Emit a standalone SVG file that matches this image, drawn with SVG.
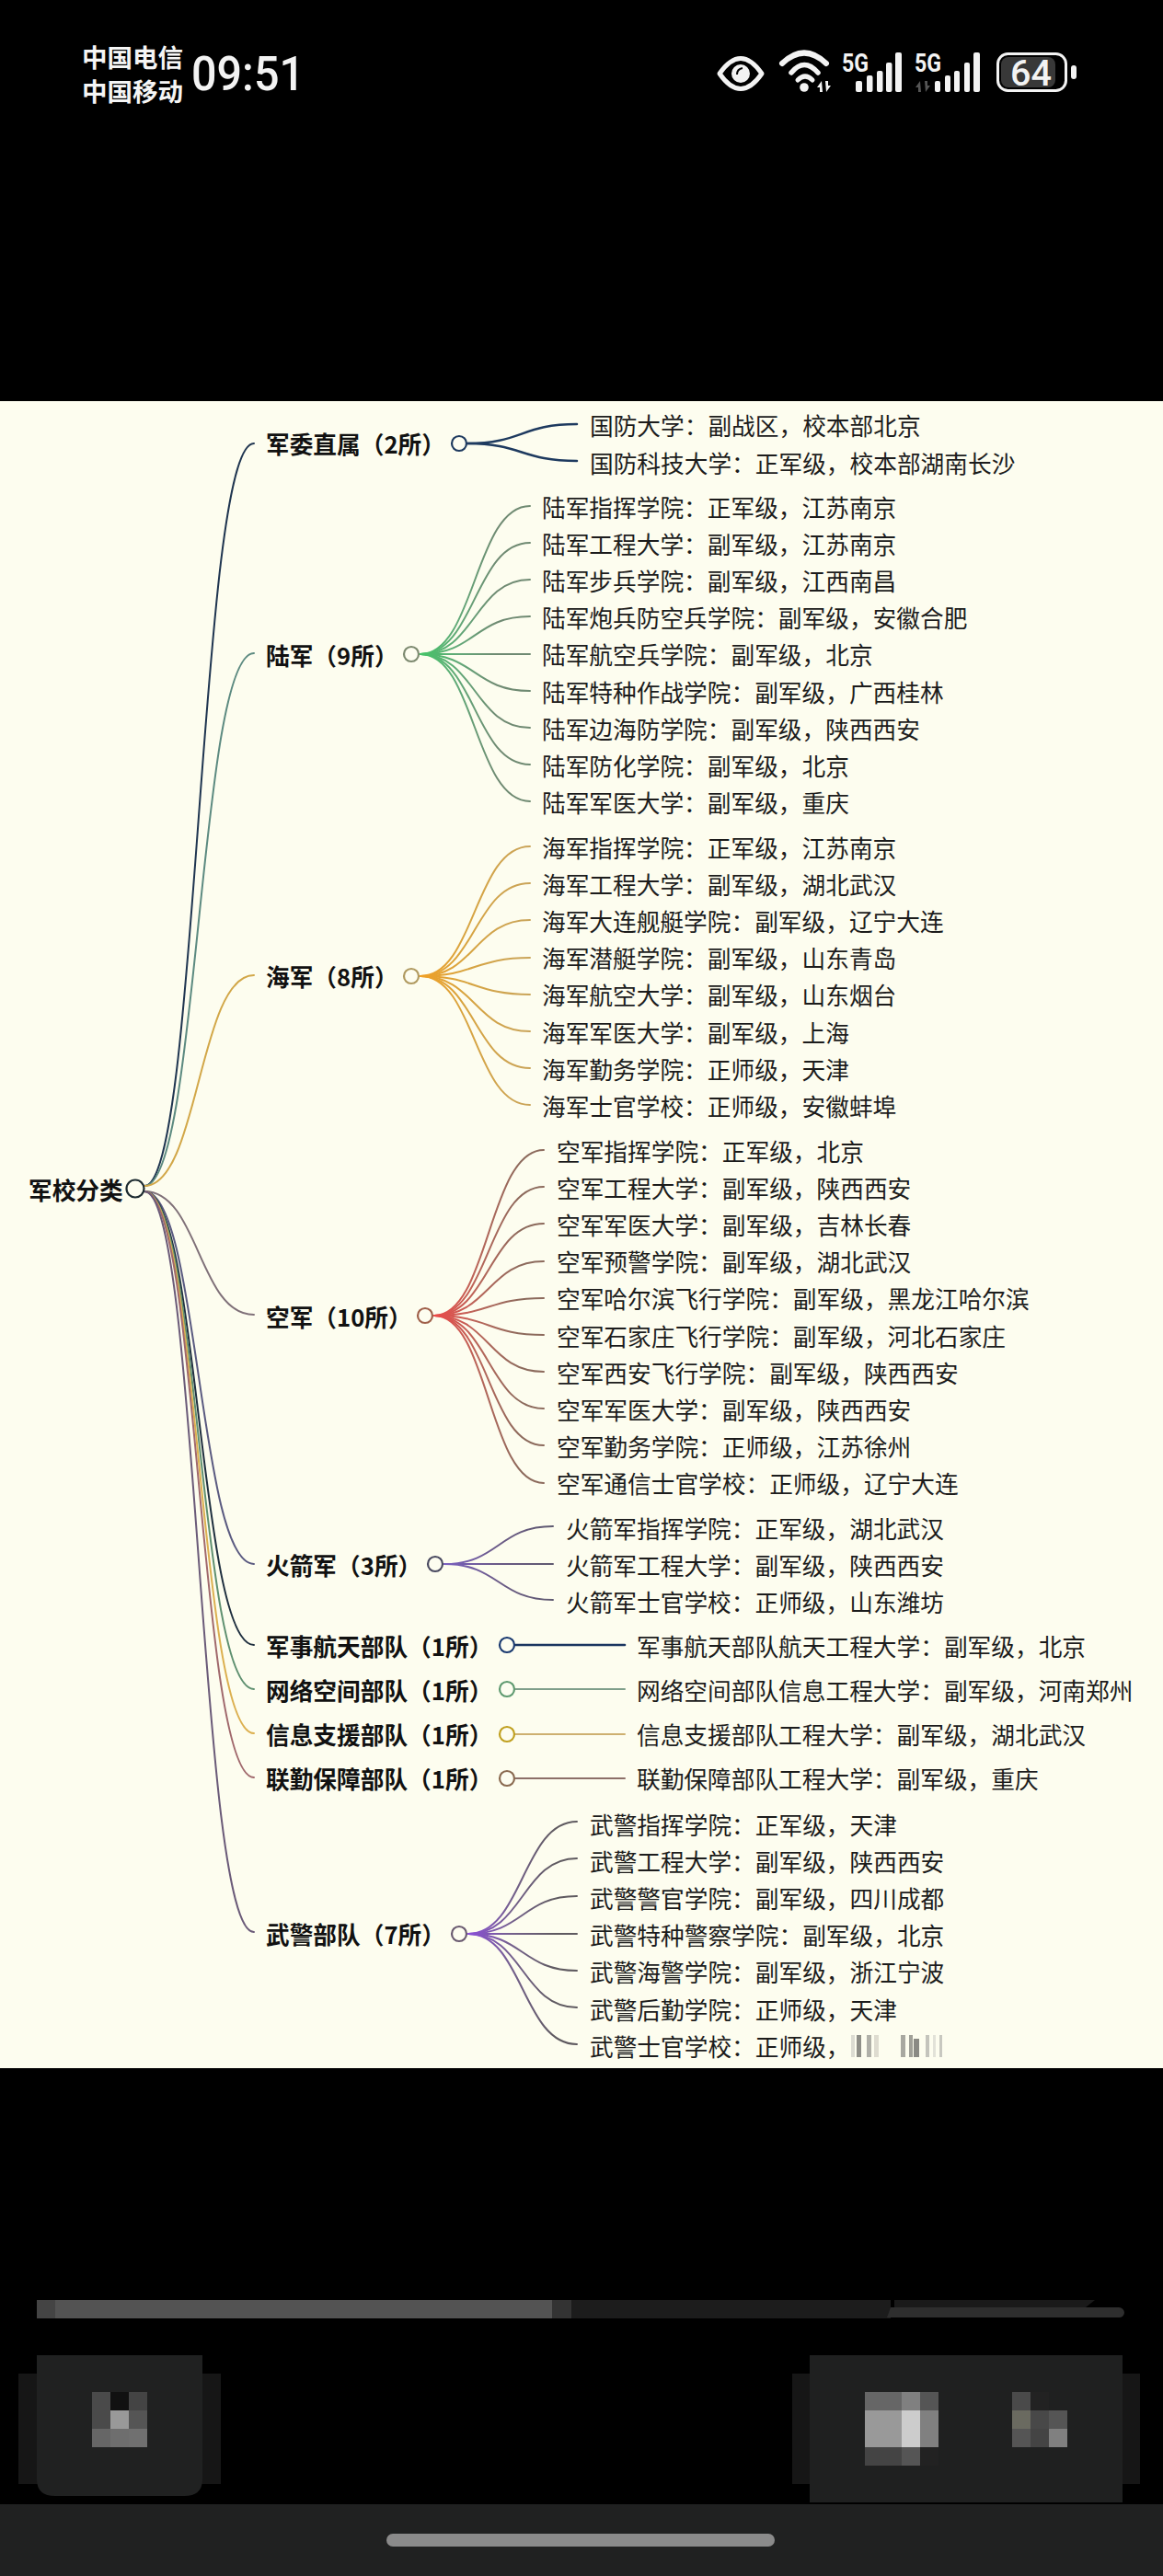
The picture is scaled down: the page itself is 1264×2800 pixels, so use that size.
<svg xmlns="http://www.w3.org/2000/svg" width="1264" height="2800" viewBox="0 0 1264 2800">
<style>
text{font-family:"Noto Sans CJK SC","Noto Sans",sans-serif}
.leaf{font-size:25.7px;fill:#1c1c1c}
.lab{font-size:25.7px;font-weight:700;fill:#111}
.st{font-size:27.5px;font-weight:700;fill:#f5f5f5}
.num{font-family:Roboto,"Liberation Sans",sans-serif;fill:#f3f3f3}
.hub{fill:#fdfdf0;stroke-width:2.2}
.conn path{fill:none;stroke-width:2;stroke-linecap:round}
.ico{fill:#f3f3f3}
.arc{fill:none;stroke:#f3f3f3;stroke-linecap:round}
</style>
<defs>
<linearGradient id="gLu" gradientUnits="userSpaceOnUse" x1="457" y1="0" x2="576" y2="0"><stop offset="0" stop-color="#45c468"/><stop offset=".35" stop-color="#62a878"/><stop offset=".7" stop-color="#6f8a72"/></linearGradient>
<linearGradient id="gHai" gradientUnits="userSpaceOnUse" x1="457" y1="0" x2="576" y2="0"><stop offset="0" stop-color="#f0a025"/><stop offset=".4" stop-color="#d8a440"/><stop offset="1" stop-color="#c9a45a"/></linearGradient>
<linearGradient id="gKong" gradientUnits="userSpaceOnUse" x1="472" y1="0" x2="591" y2="0"><stop offset="0" stop-color="#ec4a48"/><stop offset=".4" stop-color="#b8665a"/><stop offset=".8" stop-color="#8c6a5c"/></linearGradient>
<linearGradient id="gHuo" gradientUnits="userSpaceOnUse" x1="483" y1="0" x2="601" y2="0"><stop offset="0" stop-color="#7a60c0"/><stop offset=".5" stop-color="#6a5a86"/><stop offset="1" stop-color="#5f5a70"/></linearGradient>
<linearGradient id="gWu" gradientUnits="userSpaceOnUse" x1="509" y1="0" x2="627" y2="0"><stop offset="0" stop-color="#8a4fd8"/><stop offset=".4" stop-color="#74608c"/><stop offset=".8" stop-color="#5f5a60"/></linearGradient>
</defs>

<rect id="screen" x="0" y="0" width="1264" height="2800" fill="#000"/>
<rect id="panel" x="0" y="436" width="1264" height="1812" fill="#fdfdef"/>

<g id="status-bar">
<text class="st" x="89" y="72.5">中国电信</text>
<text class="st" x="89" y="110">中国移动</text>
<text class="num" x="208" y="98" font-size="51" font-weight="500" textLength="123" lengthAdjust="spacingAndGlyphs">09:51</text>
<path d="M782,80 Q805,47 828,80 Q805,113 782,80Z" fill="none" stroke="#f3f3f3" stroke-width="5" stroke-linejoin="round"/>
<circle class="ico" cx="805" cy="80" r="10"/>
<path d="M801,81 Q801,75 807,74" fill="none" stroke="#000" stroke-width="2"/>
<path class="arc" stroke-width="6" d="M850,69 Q874,46 898,69"/>
<path class="arc" stroke-width="5.5" d="M860,79 Q874,62 889,79"/>
<path class="arc" stroke-width="5" d="M867,87 Q875,79 883,87"/>
<circle class="ico" cx="874" cy="95" r="4.8"/>
<path class="ico" d="M893,88 L888,95 L891,95 L891,100 L894,100Z M898,100 L903,93 L900,93 L900,88 L897,88Z"/>
<text class="num" x="915" y="78" font-size="28" font-weight="700" textLength="29" lengthAdjust="spacingAndGlyphs">5G</text>
<rect class="ico" x="930" y="88" width="7" height="12" rx="2"/>
<rect class="ico" x="942" y="82" width="6.5" height="18" rx="2"/>
<rect class="ico" x="953" y="77" width="6.5" height="23" rx="2"/>
<rect class="ico" x="963" y="68" width="6.5" height="32" rx="2"/>
<rect class="ico" x="973" y="57" width="7" height="43" rx="2"/>
<text class="num" x="994" y="78" font-size="28" font-weight="700" textLength="29" lengthAdjust="spacingAndGlyphs">5G</text>
<path fill="#555" d="M1000,88 L995,95 L998,95 L998,100 L1001,100Z M1006,100 L1011,93 L1008,93 L1008,88 L1005,88Z"/>
<rect class="ico" x="1016" y="88" width="6" height="12" rx="2"/>
<rect class="ico" x="1027" y="82" width="6" height="18" rx="2"/>
<rect class="ico" x="1037" y="77" width="6" height="23" rx="2"/>
<rect class="ico" x="1048" y="68" width="6" height="32" rx="2"/>
<rect class="ico" x="1058" y="57" width="7" height="43" rx="2"/>
<rect x="1084.5" y="58.5" width="74" height="40" rx="11" fill="none" stroke="#f3f3f3" stroke-width="3"/>
<rect x="1088" y="62" width="59" height="33" rx="8" fill="#383838"/>
<text class="num" x="1098" y="93" font-size="38" font-weight="500" textLength="45" lengthAdjust="spacingAndGlyphs">64</text>
<rect class="ico" x="1164" y="71" width="6" height="15" rx="3"/>
</g>

<g id="connectors" class="conn">
<g id="root-edges">
<path stroke="#1f3550" d="M157,1289 C216,1289 216,482 276,482"/>
<path stroke="#5c8a80" d="M157,1289 C216,1289 216,710 276,710"/>
<path stroke="#d2a748" d="M157,1289 C216,1289 216,1060 276,1060"/>
<path stroke="#7f7078" d="M157,1295 C216,1295 216,1429 276,1429"/>
<path stroke="#5a5a80" d="M157,1295 C216,1295 216,1700 276,1700"/>
<path stroke="#1f2f3f" d="M157,1295 C216,1295 216,1788 276,1788"/>
<path stroke="#5f9070" d="M157,1295 C216,1295 216,1836 276,1836"/>
<path stroke="#dcb050" d="M157,1295 C216,1295 216,1884 276,1884"/>
<path stroke="#a0686c" d="M157,1295 C216,1295 216,1932 276,1932"/>
<path stroke="#6a5a78" d="M157,1295 C216,1295 216,2100 276,2100"/>
</g>
<g id="edges-junwei">
<path stroke="#1e3a5f" style="stroke-width:2.5" d="M508,482 C567,482 567,461 627,461"/>
<path stroke="#1e3a5f" style="stroke-width:2.5" d="M508,482 C567,482 567,501 627,501"/>
</g>
<g id="edges-lujun">
<path stroke="url(#gLu)" d="M457,711 C516,711 516,550 576,550"/>
<path stroke="url(#gLu)" d="M457,711 C516,711 516,590 576,590"/>
<path stroke="url(#gLu)" d="M457,711 C516,711 516,630 576,630"/>
<path stroke="url(#gLu)" d="M457,711 C516,711 516,670 576,670"/>
<path stroke="url(#gLu)" d="M457,711 L576,711"/>
<path stroke="url(#gLu)" d="M457,711 C516,711 516,751 576,751"/>
<path stroke="url(#gLu)" d="M457,711 C516,711 516,791 576,791"/>
<path stroke="url(#gLu)" d="M457,711 C516,711 516,831 576,831"/>
<path stroke="url(#gLu)" d="M457,711 C516,711 516,871 576,871"/>
</g>
<g id="edges-haijun">
<path stroke="url(#gHai)" d="M457,1061 C516,1061 516,920 576,920"/>
<path stroke="url(#gHai)" d="M457,1061 C516,1061 516,960 576,960"/>
<path stroke="url(#gHai)" d="M457,1061 C516,1061 516,1000 576,1000"/>
<path stroke="url(#gHai)" d="M457,1061 C516,1061 516,1041 576,1041"/>
<path stroke="url(#gHai)" d="M457,1061 C516,1061 516,1081 576,1081"/>
<path stroke="url(#gHai)" d="M457,1061 C516,1061 516,1121 576,1121"/>
<path stroke="url(#gHai)" d="M457,1061 C516,1061 516,1161 576,1161"/>
<path stroke="url(#gHai)" d="M457,1061 C516,1061 516,1201 576,1201"/>
</g>
<g id="edges-kongjun">
<path stroke="url(#gKong)" d="M472,1430 C531,1430 531,1250 591,1250"/>
<path stroke="url(#gKong)" d="M472,1430 C531,1430 531,1290 591,1290"/>
<path stroke="url(#gKong)" d="M472,1430 C531,1430 531,1330 591,1330"/>
<path stroke="url(#gKong)" d="M472,1430 C531,1430 531,1371 591,1371"/>
<path stroke="url(#gKong)" d="M472,1430 C531,1430 531,1411 591,1411"/>
<path stroke="url(#gKong)" d="M472,1430 C531,1430 531,1451 591,1451"/>
<path stroke="url(#gKong)" d="M472,1430 C531,1430 531,1491 591,1491"/>
<path stroke="url(#gKong)" d="M472,1430 C531,1430 531,1531 591,1531"/>
<path stroke="url(#gKong)" d="M472,1430 C531,1430 531,1571 591,1571"/>
<path stroke="url(#gKong)" d="M472,1430 C531,1430 531,1612 591,1612"/>
</g>
<g id="edges-huojian">
<path stroke="url(#gHuo)" d="M483,1700 C542,1700 542,1659 601,1659"/>
<path stroke="url(#gHuo)" d="M483,1700 L601,1700"/>
<path stroke="url(#gHuo)" d="M483,1700 C542,1700 542,1739 601,1739"/>
</g>
<g id="edges-single">
<path stroke="#1a3560" style="stroke-width:2.6" d="M560,1788 L679,1788"/>
<path stroke="#7f9f8a" d="M560,1836 L679,1836"/>
<path stroke="#cdb070" d="M560,1885 L679,1885"/>
<path stroke="#8c6f68" d="M560,1933 L679,1933"/>
</g>
<g id="edges-wujing">
<path stroke="url(#gWu)" d="M509,2102 C568,2102 568,1980 627,1980"/>
<path stroke="url(#gWu)" d="M509,2102 C568,2102 568,2020 627,2020"/>
<path stroke="url(#gWu)" d="M509,2102 C568,2102 568,2061 627,2061"/>
<path stroke="url(#gWu)" d="M509,2102 L627,2102"/>
<path stroke="url(#gWu)" d="M509,2102 C568,2102 568,2142 627,2142"/>
<path stroke="url(#gWu)" d="M509,2102 C568,2102 568,2182 627,2182"/>
<path stroke="url(#gWu)" d="M509,2102 C568,2102 568,2222 627,2222"/>
</g>
</g>

<g id="node-root"><text class="lab" x="31" y="1303.5">军校分类</text><circle class="hub" cx="147" cy="1292" r="9.5" stroke="#1c2a30"/></g>

<g id="node-junwei"><text class="lab" x="289" y="492.5">军委直属&#xFF08;2所&#xFF09;</text><circle class="hub" cx="499" cy="482" r="8" stroke="#1e3a5f"/></g>
<g id="leaf-junwei-1"><text class="leaf" x="641" y="473">国防大学&#xFF1A;副战区&#xFF0C;校本部北京</text></g>
<g id="leaf-junwei-2"><text class="leaf" x="641" y="513.5">国防科技大学&#xFF1A;正军级&#xFF0C;校本部湖南长沙</text></g>

<g id="node-lujun"><text class="lab" x="289" y="722.5">陆军&#xFF08;9所&#xFF09;</text><circle class="hub" cx="447" cy="711" r="8" stroke="#7d8a70"/></g>
<g id="leaves-lujun">
<g id="leaf-lu-1"><text class="leaf" x="589" y="561.5">陆军指挥学院&#xFF1A;正军级&#xFF0C;江苏南京</text></g>
<g id="leaf-lu-2"><text class="leaf" x="589" y="601.7">陆军工程大学&#xFF1A;副军级&#xFF0C;江苏南京</text></g>
<g id="leaf-lu-3"><text class="leaf" x="589" y="641.9">陆军步兵学院&#xFF1A;副军级&#xFF0C;江西南昌</text></g>
<g id="leaf-lu-4"><text class="leaf" x="589" y="682.1">陆军炮兵防空兵学院&#xFF1A;副军级&#xFF0C;安徽合肥</text></g>
<g id="leaf-lu-5"><text class="leaf" x="589" y="722.3">陆军航空兵学院&#xFF1A;副军级&#xFF0C;北京</text></g>
<g id="leaf-lu-6"><text class="leaf" x="589" y="762.5">陆军特种作战学院&#xFF1A;副军级&#xFF0C;广西桂林</text></g>
<g id="leaf-lu-7"><text class="leaf" x="589" y="802.7">陆军边海防学院&#xFF1A;副军级&#xFF0C;陕西西安</text></g>
<g id="leaf-lu-8"><text class="leaf" x="589" y="842.9">陆军防化学院&#xFF1A;副军级&#xFF0C;北京</text></g>
<g id="leaf-lu-9"><text class="leaf" x="589" y="883.1">陆军军医大学&#xFF1A;副军级&#xFF0C;重庆</text></g>
</g>

<g id="node-haijun"><text class="lab" x="289" y="1071.5">海军&#xFF08;8所&#xFF09;</text><circle class="hub" cx="447" cy="1061" r="8" stroke="#b09a60"/></g>
<g id="leaves-haijun">
<g id="leaf-hai-1"><text class="leaf" x="589" y="931.5">海军指挥学院&#xFF1A;正军级&#xFF0C;江苏南京</text></g>
<g id="leaf-hai-2"><text class="leaf" x="589" y="971.7">海军工程大学&#xFF1A;副军级&#xFF0C;湖北武汉</text></g>
<g id="leaf-hai-3"><text class="leaf" x="589" y="1011.9">海军大连舰艇学院&#xFF1A;副军级&#xFF0C;辽宁大连</text></g>
<g id="leaf-hai-4"><text class="leaf" x="589" y="1052.1">海军潜艇学院&#xFF1A;副军级&#xFF0C;山东青岛</text></g>
<g id="leaf-hai-5"><text class="leaf" x="589" y="1092.3">海军航空大学&#xFF1A;副军级&#xFF0C;山东烟台</text></g>
<g id="leaf-hai-6"><text class="leaf" x="589" y="1132.5">海军军医大学&#xFF1A;副军级&#xFF0C;上海</text></g>
<g id="leaf-hai-7"><text class="leaf" x="589" y="1172.7">海军勤务学院&#xFF1A;正师级&#xFF0C;天津</text></g>
<g id="leaf-hai-8"><text class="leaf" x="589" y="1212.9">海军士官学校&#xFF1A;正师级&#xFF0C;安徽蚌埠</text></g>
</g>

<g id="node-kongjun"><text class="lab" x="289" y="1441.5">空军&#xFF08;10所&#xFF09;</text><circle class="hub" cx="462" cy="1430" r="8" stroke="#a0604a"/></g>
<g id="leaves-kongjun">
<g id="leaf-kong-1"><text class="leaf" x="605" y="1261.5">空军指挥学院&#xFF1A;正军级&#xFF0C;北京</text></g>
<g id="leaf-kong-2"><text class="leaf" x="605" y="1301.7">空军工程大学&#xFF1A;副军级&#xFF0C;陕西西安</text></g>
<g id="leaf-kong-3"><text class="leaf" x="605" y="1341.9">空军军医大学&#xFF1A;副军级&#xFF0C;吉林长春</text></g>
<g id="leaf-kong-4"><text class="leaf" x="605" y="1382.1">空军预警学院&#xFF1A;副军级&#xFF0C;湖北武汉</text></g>
<g id="leaf-kong-5"><text class="leaf" x="605" y="1422.3">空军哈尔滨飞行学院&#xFF1A;副军级&#xFF0C;黑龙江哈尔滨</text></g>
<g id="leaf-kong-6"><text class="leaf" x="605" y="1462.5">空军石家庄飞行学院&#xFF1A;副军级&#xFF0C;河北石家庄</text></g>
<g id="leaf-kong-7"><text class="leaf" x="605" y="1502.7">空军西安飞行学院&#xFF1A;副军级&#xFF0C;陕西西安</text></g>
<g id="leaf-kong-8"><text class="leaf" x="605" y="1542.9">空军军医大学&#xFF1A;副军级&#xFF0C;陕西西安</text></g>
<g id="leaf-kong-9"><text class="leaf" x="605" y="1583.1">空军勤务学院&#xFF1A;正师级&#xFF0C;江苏徐州</text></g>
<g id="leaf-kong-10"><text class="leaf" x="605" y="1623.3">空军通信士官学校&#xFF1A;正师级&#xFF0C;辽宁大连</text></g>
</g>

<g id="node-huojian"><text class="lab" x="289" y="1711.5">火箭军&#xFF08;3所&#xFF09;</text><circle class="hub" cx="473" cy="1700" r="8" stroke="#4a4a60"/></g>
<g id="leaf-huo-1"><text class="leaf" x="615" y="1671.5">火箭军指挥学院&#xFF1A;正军级&#xFF0C;湖北武汉</text></g>
<g id="leaf-huo-2"><text class="leaf" x="615" y="1711.7">火箭军工程大学&#xFF1A;副军级&#xFF0C;陕西西安</text></g>
<g id="leaf-huo-3"><text class="leaf" x="615" y="1751.9">火箭军士官学校&#xFF1A;正师级&#xFF0C;山东潍坊</text></g>

<g id="node-hangtian"><text class="lab" x="289" y="1799.5">军事航天部队&#xFF08;1所&#xFF09;</text><circle class="hub" cx="551" cy="1788" r="8" stroke="#1a3a70"/></g>
<g id="leaf-hangtian"><text class="leaf" x="692" y="1799.5">军事航天部队航天工程大学&#xFF1A;副军级&#xFF0C;北京</text></g>
<g id="node-wangluo"><text class="lab" x="289" y="1847.5">网络空间部队&#xFF08;1所&#xFF09;</text><circle class="hub" cx="551" cy="1836" r="8" stroke="#5f9a70"/></g>
<g id="leaf-wangluo"><text class="leaf" x="692" y="1847.5">网络空间部队信息工程大学&#xFF1A;副军级&#xFF0C;河南郑州</text></g>
<g id="node-xinxi"><text class="lab" x="289" y="1895.5">信息支援部队&#xFF08;1所&#xFF09;</text><circle class="hub" cx="551" cy="1885" r="8" stroke="#c0a020"/></g>
<g id="leaf-xinxi"><text class="leaf" x="692" y="1895.5">信息支援部队工程大学&#xFF1A;副军级&#xFF0C;湖北武汉</text></g>
<g id="node-lianqin"><text class="lab" x="289" y="1943.5">联勤保障部队&#xFF08;1所&#xFF09;</text><circle class="hub" cx="551" cy="1933" r="8" stroke="#8a6a50"/></g>
<g id="leaf-lianqin"><text class="leaf" x="692" y="1943.5">联勤保障部队工程大学&#xFF1A;副军级&#xFF0C;重庆</text></g>

<g id="node-wujing"><text class="lab" x="289" y="2112.5">武警部队&#xFF08;7所&#xFF09;</text><circle class="hub" cx="499" cy="2102" r="8" stroke="#6a5a70"/></g>
<g id="leaves-wujing">
<g id="leaf-wu-1"><text class="leaf" x="641" y="1993.5">武警指挥学院&#xFF1A;正军级&#xFF0C;天津</text></g>
<g id="leaf-wu-2"><text class="leaf" x="641" y="2033.7">武警工程大学&#xFF1A;副军级&#xFF0C;陕西西安</text></g>
<g id="leaf-wu-3"><text class="leaf" x="641" y="2073.9">武警警官学院&#xFF1A;副军级&#xFF0C;四川成都</text></g>
<g id="leaf-wu-4"><text class="leaf" x="641" y="2114.1">武警特种警察学院&#xFF1A;副军级&#xFF0C;北京</text></g>
<g id="leaf-wu-5"><text class="leaf" x="641" y="2154.3">武警海警学院&#xFF1A;副军级&#xFF0C;浙江宁波</text></g>
<g id="leaf-wu-6"><text class="leaf" x="641" y="2194.5">武警后勤学院&#xFF1A;正师级&#xFF0C;天津</text></g>
<g id="leaf-wu-7"><text class="leaf" x="641" y="2234.7">武警士官学校&#xFF1A;正师级&#xFF0C;</text></g>
</g>

<g id="blur-mask">
<rect x="925" y="2212" width="4" height="24" fill="#dcdcd2"/>
<rect x="931" y="2212" width="5" height="24" fill="#8f8f88"/>
<rect x="942" y="2212" width="5" height="24" fill="#b0b0a8"/>
<rect x="950" y="2212" width="5" height="24" fill="#dedcd0"/>
<rect x="979" y="2212" width="5" height="24" fill="#a8a8a0"/>
<rect x="988" y="2212" width="4" height="24" fill="#a0a098"/>
<rect x="993" y="2216" width="6" height="20" fill="#8a8a84"/>
<rect x="1006" y="2212" width="4" height="24" fill="#c4c4bc"/>
<rect x="1014" y="2212" width="3" height="24" fill="#e2e2d8"/>
<rect x="1021" y="2212" width="3" height="24" fill="#c8c8c0"/>
</g>

<g id="bottom-ui">
<rect x="40" y="2500" width="20" height="20" fill="#444"/>
<rect x="60" y="2500" width="540" height="20" fill="#535353"/>
<rect x="600" y="2500" width="21" height="20" fill="#333"/>
<rect x="621" y="2500" width="347" height="20" fill="#1c1c1c"/>
<path d="M972,2500 L1190,2500 L1180,2508 L972,2508Z" fill="#1a1a1a"/>
<path d="M968,2508 L1216,2508 A6,6 0 0 1 1222,2514 A6,6 0 0 1 1216,2519 L964,2519Z" fill="#2e2e2e"/>

<rect x="20" y="2580" width="220" height="120" fill="#161616"/>
<path d="M40,2560 H220 V2695 Q220,2713 200,2713 H60 Q40,2713 40,2695Z" fill="#202121"/>
<rect x="100" y="2600" width="20" height="20" fill="#4a4a4a"/><rect x="120" y="2600" width="20" height="20" fill="#111"/><rect x="140" y="2600" width="20" height="20" fill="#444"/>
<rect x="100" y="2620" width="20" height="20" fill="#4a4a4a"/><rect x="120" y="2620" width="20" height="20" fill="#999"/><rect x="140" y="2620" width="20" height="20" fill="#555"/>
<rect x="100" y="2640" width="20" height="20" fill="#666"/><rect x="120" y="2640" width="20" height="20" fill="#6e6e6e"/><rect x="140" y="2640" width="20" height="20" fill="#707070"/>

<rect x="861" y="2580" width="378" height="120" fill="#161616"/>
<rect x="880" y="2560" width="340" height="160" fill="#1f2020"/>
<rect x="940" y="2600" width="40" height="20" fill="#666"/><rect x="980" y="2600" width="20" height="20" fill="#808080"/><rect x="1000" y="2600" width="20" height="20" fill="#555"/>
<rect x="940" y="2620" width="40" height="40" fill="#999"/><rect x="980" y="2620" width="20" height="40" fill="#ccc"/><rect x="1000" y="2620" width="20" height="40" fill="#808080"/>
<rect x="940" y="2660" width="40" height="20" fill="#444"/><rect x="980" y="2660" width="20" height="20" fill="#555"/><rect x="1000" y="2660" width="20" height="20" fill="#222"/>
<rect x="1100" y="2600" width="20" height="20" fill="#4a4a4a"/><rect x="1120" y="2600" width="20" height="20" fill="#222"/>
<rect x="1100" y="2620" width="20" height="20" fill="#6a6a60"/><rect x="1120" y="2620" width="20" height="20" fill="#484848"/><rect x="1140" y="2620" width="20" height="20" fill="#555"/>
<rect x="1100" y="2640" width="20" height="20" fill="#555"/><rect x="1120" y="2640" width="20" height="20" fill="#444"/><rect x="1140" y="2640" width="20" height="20" fill="#808080"/>

<rect x="0" y="2722" width="1264" height="78" fill="#202121"/>
<rect x="420" y="2754" width="422" height="14" rx="7" fill="#8a8a8a"/>
</g>
</svg>
